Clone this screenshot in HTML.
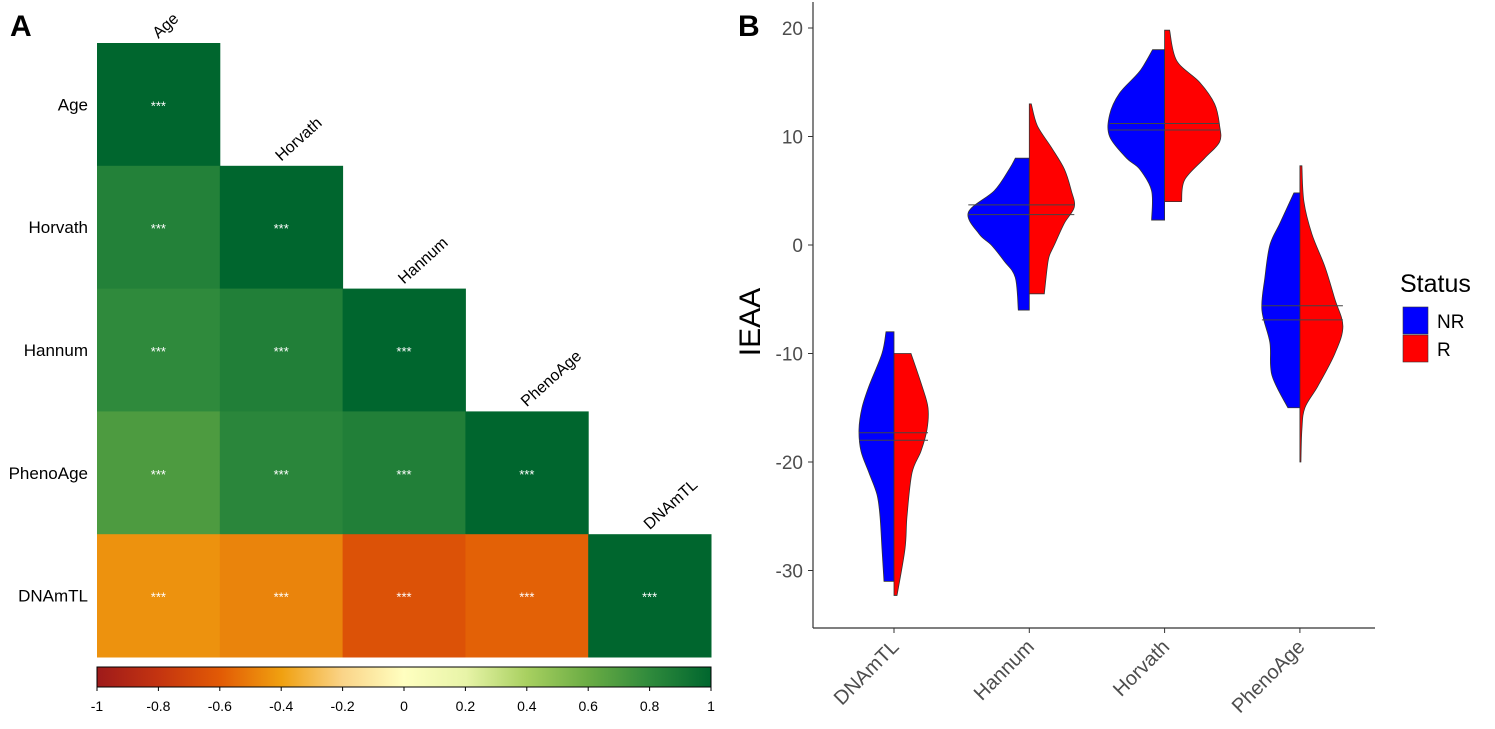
<!DOCTYPE html>
<html><head><meta charset="utf-8"><style>
body{margin:0;background:#fff;}
svg{display:block;font-family:"Liberation Sans",Arial,sans-serif;}
</style></head><body>
<svg id="svg" width="1495" height="729" viewBox="0 0 1495 729">
<defs>
<linearGradient id="cb" x1="0" x2="1" y1="0" y2="0">
<stop offset="0" stop-color="#9e1a1a"/><stop offset="0.1" stop-color="#c43410"/>
<stop offset="0.2" stop-color="#e25a05"/><stop offset="0.3" stop-color="#f0a010"/>
<stop offset="0.4" stop-color="#fad488"/><stop offset="0.5" stop-color="#ffffc0"/>
<stop offset="0.6" stop-color="#e8f4a8"/><stop offset="0.7" stop-color="#a8d060"/>
<stop offset="0.8" stop-color="#6aac44"/><stop offset="0.9" stop-color="#2f8a3c"/>
<stop offset="1" stop-color="#00662e"/>
</linearGradient>
</defs>
<text x="10" y="36" font-size="30" font-weight="bold">A</text>
<text x="738" y="36" font-size="30" font-weight="bold">B</text>
<g id="heat"></g>
<rect x="97" y="667" width="614" height="20" fill="url(#cb)" stroke="#000" stroke-width="1"/>
<g id="cbt"></g>
<g id="vio"></g>
</svg>
<script>
const NS="http://www.w3.org/2000/svg";
function mk(t,a,p){const e=document.createElementNS(NS,t);for(const k in a)e.setAttribute(k,a[k]);p.appendChild(e);return e;}
// ---- heatmap data ----
const vars=["Age","Horvath","Hannum","PhenoAge","DNAmTL"];
const corr=[[1],[0.85,1],[0.8,0.86,1],[0.7,0.82,0.86,1],[-0.44,-0.48,-0.64,-0.58,1]];
const cbTicks=[-1,-0.8,-0.6,-0.4,-0.2,0,0.2,0.4,0.6,0.8,1];
const stops=[[-1,[158,26,26]],[-0.8,[196,52,16]],[-0.6,[226,90,5]],[-0.4,[240,160,16]],[-0.2,[250,212,136]],[0,[255,255,192]],[0.2,[232,244,168]],[0.4,[168,208,96]],[0.6,[106,172,68]],[0.8,[47,138,60]],[1,[0,102,46]]];
function col(v){for(let i=0;i<stops.length-1;i++){const a=stops[i],b=stops[i+1];if(v<=b[0]){const t=(v-a[0])/(b[0]-a[0]);const c=a[1].map((x,j)=>Math.round(x+(b[1][j]-x)*t));return `rgb(${c})`;}}return "rgb(0,102,46)";}
const H=document.getElementById("heat"),X0=97,Y0=43,CW=122.8;
vars.forEach((v,i)=>{
 const lab=mk("text",{x:88,y:Y0+CW*i+CW/2+6,"font-size":17,"text-anchor":"end"},H);lab.textContent=v;
 
 
 const cx=X0+CW*i+CW/2,cy=Y0+CW*i-4;
 const cl=mk("text",{x:cx,y:cy,"font-size":16,transform:`rotate(-42 ${cx} ${cy})`},H);cl.textContent=v;
 
 
 corr[i].forEach((c,j)=>{
  const r=mk("rect",{x:X0+CW*j,y:Y0+CW*i,width:CW+0.5,height:CW+0.5,fill:col(c)},H);
  
  
  const s=mk("text",{x:X0+CW*j+CW/2,y:Y0+CW*i+CW/2+6,"font-size":13,fill:"#fff","text-anchor":"middle"},H);s.textContent="***";
  
  
 });
});
const CB=document.getElementById("cbt");
cbTicks.forEach(t=>{const x=97+(t+1)/2*614;
 mk("line",{x1:x,x2:x,y1:687,y2:691,stroke:"#000"},CB);
 const tx=mk("text",{x:x,y:711,"font-size":14,"text-anchor":"middle"},CB);tx.textContent=t;
 
 
});
// ---- violin data ----
const cats=["DNAmTL","Hannum","Horvath","PhenoAge"];
const yTicks=[20,10,0,-10,-20,-30];
const nrVals=[[-8,-10,-13,-15,-17,-19,-21,-23,-25,-28,-31],[8,7,5,3,1,0,-1.5,-3,-6],[18,16,14,12,10,8,7,5,2.3],[4.8,2,0,-3,-6,-9,-12,-15]];
const nrDens=[[8,12,25,32,35,33,25,17,14,12,10],[14,20,35,61,50,38,25,14,11],[12,25,45,55,55,38,25,13,13],[6,20,30,35,38,30,28,12]];
const rVals=[[-10,-13,-15,-17,-19,-21,-25,-28,-32.3],[13,11,9,7,5,3.5,2,0,-1,-2,-4.5],[19.8,17,15,13,11,9.5,8,6,4],[7.3,4,1,-2,-5,-7.5,-10,-13,-15,-17,-20]];
const rDens=[[17,28,34,33,27,18,13,11,3],[2,8,22,35,42,45,35,25,20,18,15],[5,12,35,50,55,55,40,20,17],[2,4,12,25,35,43,35,18,5,2,1]];
const nrMed=[-17.3,2.8,11.2,-5.6];
const rMed=[-18,3.7,10.6,-6.9];
const V=document.getElementById("vio");
const yS=v=>245-v*10.85, xS=i=>894+i*135.3;
mk("line",{x1:813,x2:813,y1:2,y2:628,stroke:"#333","stroke-width":1.2},V);
mk("line",{x1:813,x2:1375,y1:628,y2:628,stroke:"#333","stroke-width":1.2},V);
yTicks.forEach(t=>{mk("line",{x1:808,x2:813,y1:yS(t),y2:yS(t),stroke:"#333"},V);
 const tx=mk("text",{x:803,y:yS(t)+7,"font-size":19,fill:"#4d4d4d","text-anchor":"end"},V);tx.textContent=t;
 
 });
function smooth(pts){let d=`L${pts[0][0]},${pts[0][1]}`;
 for(let k=0;k<pts.length-1;k++){const p0=pts[Math.max(k-1,0)],p1=pts[k],p2=pts[k+1],p3=pts[Math.min(k+2,pts.length-1)];
  const c1=[p1[0]+(p2[0]-p0[0])/6,p1[1]+(p2[1]-p0[1])/6],c2=[p2[0]-(p3[0]-p1[0])/6,p2[1]-(p3[1]-p1[1])/6];
  d+=`C${c1[0]},${c1[1]} ${c2[0]},${c2[1]} ${p2[0]},${p2[1]}`;}
 return d;}
function half(i,vals,dens,sgn,fill,name){
 const cx=xS(i);
 const pts=vals.map((v,k)=>[cx+sgn*dens[k],yS(v)]);
 let d=`M${cx},${yS(vals[0])}`+smooth(pts)+`L${cx},${yS(vals[vals.length-1])}Z`;
 const p=mk("path",{d:d,fill:fill,stroke:"#333","stroke-width":0.8},V);
 
 
}
cats.forEach((c,i)=>{
 half(i,nrVals[i],nrDens[i],-1,"#0000ff","violin-nr-"+c.toLowerCase());
 half(i,rVals[i],rDens[i],1,"#ff0000","violin-r-"+c.toLowerCase());
 const cx=xS(i);
 mk("line",{x1:cx-Math.max(...nrDens[i]),x2:cx+Math.max(...rDens[i]),y1:yS(nrMed[i]),y2:yS(nrMed[i]),stroke:"#444","stroke-width":1},V);
 mk("line",{x1:cx-Math.max(...nrDens[i]),x2:cx+Math.max(...rDens[i]),y1:yS(rMed[i]),y2:yS(rMed[i]),stroke:"#444","stroke-width":1},V);
 mk("line",{x1:cx,x2:cx,y1:628,y2:633,stroke:"#333"},V);
 const tx=mk("text",{x:cx+6,y:648,"font-size":20,fill:"#4d4d4d","text-anchor":"end",transform:`rotate(-45 ${cx+6} 648)`},V);tx.textContent=c;
 
 
});
const yt=mk("text",{x:760,y:322,"font-size":30,"text-anchor":"middle",transform:"rotate(-90 760 322)"},V);yt.textContent="IEAA";


const lt=mk("text",{x:1400,y:292,"font-size":25},V);lt.textContent="Status";


[["NR","#0000ff",307],["R","#ff0000",335]].forEach(([n,f,y])=>{
 const r=mk("rect",{x:1403,y:y,width:25,height:27,fill:f,stroke:"#333","stroke-width":0.6},V);
 
 
 const t=mk("text",{x:1437,y:y+21,"font-size":19},V);t.textContent=n;
 
 
});
</script>
</body></html>
